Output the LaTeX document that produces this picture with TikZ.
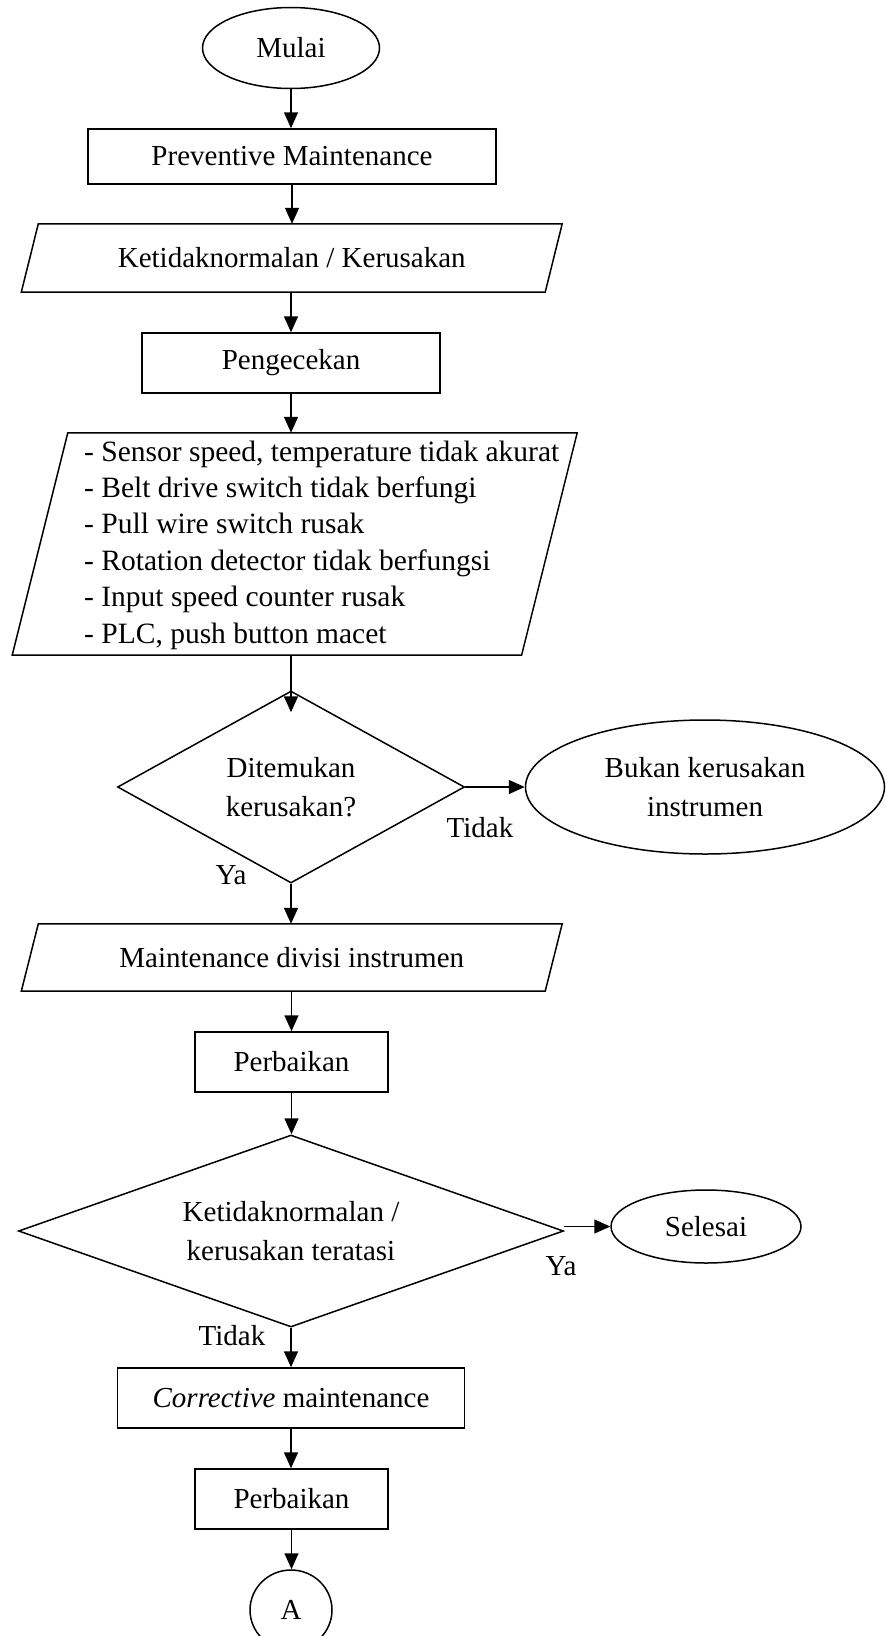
\documentclass[tikz,border=0pt]{standalone}
\usepackage{fontspec}
\setmainfont{Liberation Serif}
\usetikzlibrary{shapes.geometric,arrows.meta}
\begin{document}
\begin{tikzpicture}[x=1pt,y=-1pt,
  every node/.style={font=\fontsize{29}{38.5}\selectfont, inner sep=0pt},
  line/.style={line width=1.5pt},
  arr/.style={line width=1.5pt,-{Triangle[length=16pt,width=14pt]}},
  box/.style={draw,line width=1.5pt,rectangle,align=center},
  term/.style={draw,line width=1.5pt,ellipse,align=center},
  dec/.style={draw,line width=1.5pt,diamond,align=center},
  frame/.style={rectangle,align=center}]
\clip (0,0) rectangle (886,1636);
\fill[white] (0,0) rectangle (886,1636);

\node[term, minimum width=177pt, minimum height=81pt] (mulai) at (291,48) {Mulai};
\node[box, minimum width=408pt, minimum height=55pt] (prev) at (292,156.5) {Preventive Maintenance};
\node[frame, minimum width=540.5pt, minimum height=68pt] (ketid) at (291.75,258) {Ketidaknormalan / Kerusakan};
\draw[line] ([xshift=17pt]ketid.north west) -- (ketid.north east) -- ([xshift=-17pt]ketid.south east) -- (ketid.south west) -- cycle;
\node[box, minimum width=298pt, minimum height=60pt] (cek) at (291,363) {Pengecekan};
\node[frame, minimum width=564.6pt, minimum height=222pt] (list) at (294.7,544) {};
\draw[line] ([xshift=55.6pt]list.north west) -- (list.north east) -- ([xshift=-55.6pt]list.south east) -- (list.south west) -- cycle;
\node[anchor=west, align=left, font=\fontsize{29.5}{36.4}\selectfont] (listtext) at (84,545) {- Sensor speed, temperature tidak akurat\\- Belt drive switch tidak berfungi\\- Pull wire switch rusak\\- Rotation detector tidak berfungsi\\- Input speed counter rusak\\- PLC, push button macet};
\node[dec, aspect=1.8, minimum width=347pt, minimum height=192pt] (d1) at (291,787) {Ditemukan\\kerusakan?};
\node[term, minimum width=359pt, minimum height=134pt] (bukan) at (705,787) {Bukan kerusakan\\instrumen};
\node[frame, minimum width=540.5pt, minimum height=67pt] (mdi) at (291.75,957.5) {Maintenance divisi instrumen};
\draw[line] ([xshift=17pt]mdi.north west) -- (mdi.north east) -- ([xshift=-17pt]mdi.south east) -- (mdi.south west) -- cycle;
\node[box, minimum width=193pt, minimum height=60pt] (perb1) at (291.5,1062) {Perbaikan};
\node[dec, aspect=2.84, minimum width=545pt, minimum height=192pt] (d2) at (291,1231) {Ketidaknormalan /\\kerusakan teratasi};
\node[term, minimum width=190pt, minimum height=73pt] (sel) at (706,1226.5) {Selesai};
\node[box, minimum width=347pt, minimum height=60pt] (corr) at (291,1398) {\textit{Corrective} maintenance};
\node[box, minimum width=193pt, minimum height=60pt] (perb2) at (291.5,1499) {Perbaikan};
\node[term, minimum width=82pt, minimum height=80pt] (a) at (291,1610) {A};

\node (l1) at (480,828) {Tidak};
\node (l2) at (231,875) {Ya};
\node (l3) at (561,1266) {Ya};
\node (l4) at (232,1336) {Tidak};

\draw[arr] (mulai.south) -- (mulai.south |- prev.north);
\draw[arr] (prev.south) -- (prev.south |- ketid.north);
\draw[arr] (ketid.south -| cek.north) -- (cek.north);
\draw[arr] (cek.south) -- (cek.south |- list.north);
\draw[arr] (list.south -| d1.north) -- ([yshift=-22pt]d1.north);
\draw[arr] (d1.east) -- (bukan.west);
\draw[arr] (d1.south) -- (d1.south |- mdi.north);
\draw[arr] (mdi.south -| perb1.north) -- (perb1.north);
\draw[arr] (perb1.south) -- (perb1.south |- d2.north);
\draw[arr] (sel.west -| d2.east) -- (sel.west);
\draw[arr] (d2.south) -- (d2.south |- corr.north);
\draw[arr] (corr.south) -- (corr.south |- perb2.north);
\draw[arr] (perb2.south) -- (perb2.south |- a.north);
\end{tikzpicture}
\end{document}
